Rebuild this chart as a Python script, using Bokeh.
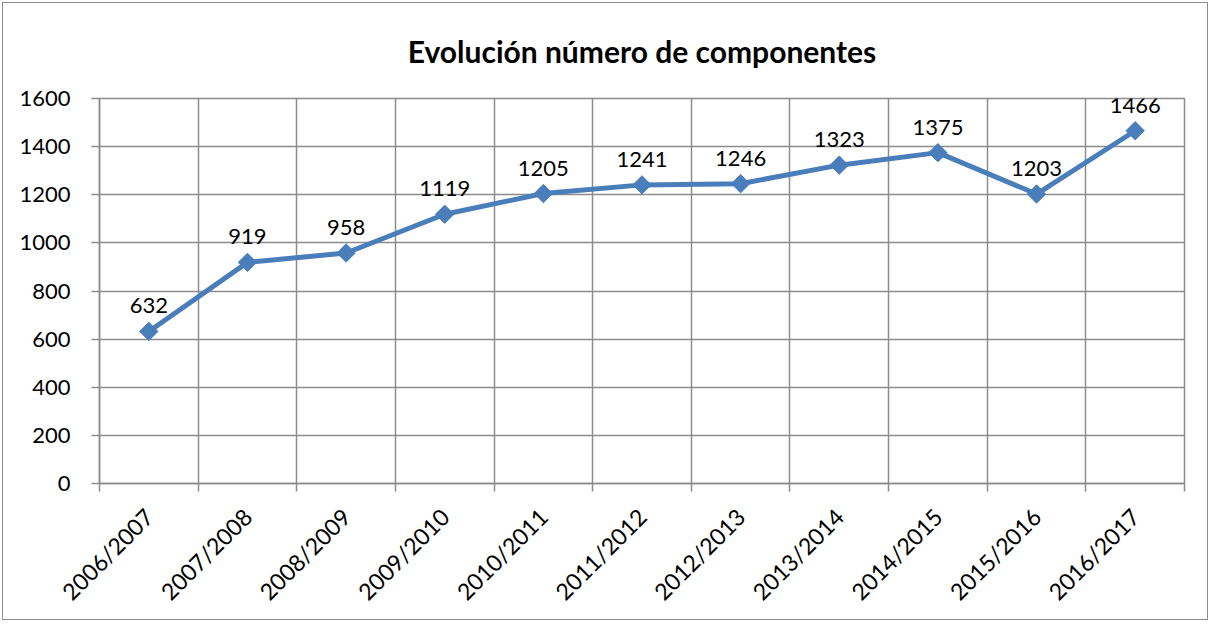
import math
from bokeh.plotting import figure
from bokeh.models import FixedTicker, ColumnDataSource, LabelSet, Range1d
from bokeh.core.properties import value
from bokeh.embed import file_html
from bokeh.resources import INLINE

seasons = ["2006/2007", "2007/2008", "2008/2009", "2009/2010", "2010/2011", "2011/2012",
           "2012/2013", "2013/2014", "2014/2015", "2015/2016", "2016/2017"]
members = [632, 919, 958, 1119, 1205, 1241, 1246, 1323, 1375, 1203, 1466]
y_ticks = [0, 200, 400, 600, 800, 1000, 1200, 1400, 1600]
title_text = "Evolución número de componentes"

FONT = "Lato"
GRID = "#8c8c8c"
BLUE = "#4A7EBB"

n = len(seasons)
centers = [i + 0.5 for i in range(n)]
bounds = list(range(n + 1))

src = ColumnDataSource(dict(x=centers, y=members, lbl=[str(v) for v in members]))

p = figure(width=1206, height=618, output_backend="svg", toolbar_location=None,
           x_range=Range1d(0, n), y_range=Range1d(0, 1600),
           min_border_left=96, min_border_right=25, min_border_top=95, min_border_bottom=138,
           title=title_text)
p.styles = {"border": "1px solid #8c8c8c", "margin-left": "2px", "margin-top": "2px"}

p.title.align = "center"
p.title.vertical_align = "top"
p.title.text_font = FONT
p.title.text_font_size = "30px"
p.title.text_font_style = "bold"
p.title.text_color = "black"
p.title.standoff = 56

p.outline_line_color = GRID
p.outline_line_width = 1.5

# x axis
p.xaxis.ticker = FixedTicker(ticks=centers, minor_ticks=bounds)
p.xaxis.major_label_overrides = {c: s for c, s in zip(centers, seasons)}
p.xaxis.major_tick_out = 0
p.xaxis.major_tick_in = 0
p.xaxis.minor_tick_out = 8
p.xaxis.minor_tick_in = 0
p.xaxis.minor_tick_line_color = GRID
p.xaxis.minor_tick_line_width = 1.5
p.xaxis.axis_line_color = GRID
p.xaxis.axis_line_width = 1.5
p.xaxis.major_label_orientation = math.pi / 4
p.xaxis.major_label_text_font = FONT
p.xaxis.major_label_text_font_size = "23px"
p.xaxis.major_label_text_color = "black"
p.xaxis.major_label_standoff = 21

# y axis
p.yaxis.ticker = FixedTicker(ticks=y_ticks)
p.yaxis.major_tick_out = 8
p.yaxis.major_tick_in = 0
p.yaxis.minor_tick_line_color = None
p.yaxis.major_tick_line_color = GRID
p.yaxis.major_tick_line_width = 1.5
p.yaxis.axis_line_color = GRID
p.yaxis.axis_line_width = 1.5
p.yaxis.major_label_text_font = FONT
p.yaxis.major_label_text_font_size = "22px"
p.yaxis.major_label_text_color = "black"
p.yaxis.major_label_standoff = 21

# grids
p.xgrid.ticker = FixedTicker(ticks=bounds)
p.xgrid.grid_line_color = GRID
p.xgrid.grid_line_width = 1.5
p.ygrid.ticker = FixedTicker(ticks=y_ticks)
p.ygrid.grid_line_color = GRID
p.ygrid.grid_line_width = 1.5

p.line("x", "y", source=src, line_color=BLUE, line_width=5)
p.scatter("x", "y", source=src, marker="square", angle=math.pi / 4, size=13,
          fill_color=BLUE, line_color=BLUE)

labels = LabelSet(x="x", y="y", text="lbl", source=src, text_align="center",
                  text_baseline="alphabetic", y_offset=18, text_font=value(FONT),
                  text_font_size="22px", text_color="black")
p.add_layout(labels)

open("out.html", "w").write(file_html(p, INLINE))
